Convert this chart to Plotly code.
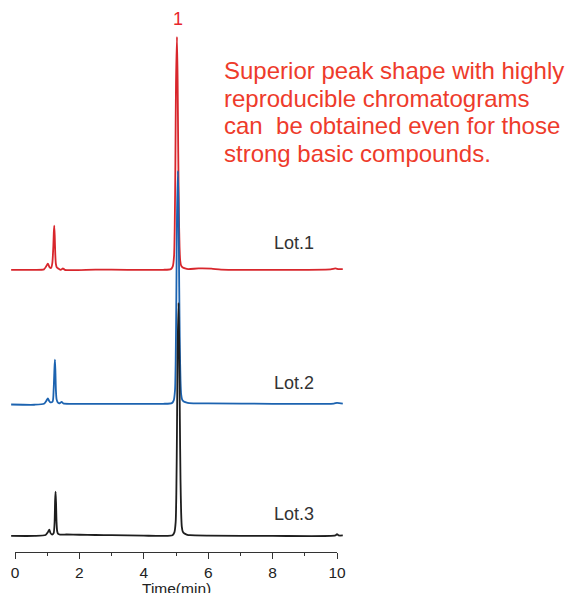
import plotly.graph_objects as go

# ---- data (signal in relative units, main peak = 100) ----
lot1_time = [-0.12, 0.5, 0.9, 0.97, 1.02, 1.07, 1.12, 1.16, 1.19, 1.205, 1.22, 1.235, 1.25, 1.27, 1.3, 1.35, 1.42, 1.49, 1.55,
             2.5, 3.5, 4.6, 4.84, 4.90, 4.94, 4.96, 4.98, 5.00, 5.03, 5.05, 5.07, 5.09, 5.11, 5.13, 5.16, 5.21, 5.28, 5.38,
             5.7, 6.1, 6.4, 8.0, 9.8, 9.95, 10.05, 10.18]
lot1_signal = [0.0, 0.0, 0.2, 1.5, 2.6, 1.2, 0.8, 3.0, 10.0, 16.0, 19.0, 14.0, 7.0, 2.5, 1.0, 0.5, 0.0, 0.6, 0.0,
               0.1, 0.0, 0.0, 0.3, 1.5, 6.0, 18.0, 45.0, 80.0, 100.0, 82.0, 50.0, 24.0, 10.0, 4.0, 1.8, 1.0, 0.6, 0.3,
               0.6, 0.5, 0.1, 0.0, 0.2, 0.6, 0.3, 0.3]

lot2_time = [-0.12, 0.6, 0.9, 0.97, 1.02, 1.06, 1.1, 1.17, 1.2, 1.225, 1.24, 1.255, 1.27, 1.29, 1.32, 1.37, 1.45, 1.5,
             3.0, 4.6, 4.87, 4.93, 4.97, 4.99, 5.01, 5.03, 5.06, 5.08, 5.10, 5.12, 5.14, 5.16, 5.19, 5.24, 5.31, 5.41,
             6.0, 8.0, 9.9, 10.0, 10.18]
lot2_signal = [-0.3, -0.4, 0.0, 1.2, 2.3, 1.2, 0.6, 1.0, 6.0, 15.0, 19.0, 14.0, 6.0, 2.0, 0.8, 0.2, 0.8, 0.2,
               0.0, 0.0, 0.3, 1.5, 6.0, 18.0, 45.0, 80.0, 100.0, 82.0, 50.0, 24.0, 10.0, 4.0, 1.8, 1.0, 0.6, 0.3,
               0.2, 0.0, 0.1, 0.4, 0.1]

lot3_time = [-0.12, 0.6, 0.95, 1.02, 1.065, 1.1, 1.15, 1.2, 1.23, 1.245, 1.26, 1.275, 1.29, 1.31, 1.34, 1.4, 1.6,
             2.0, 2.5, 3.0, 4.0, 4.6, 4.89, 4.95, 4.99, 5.01, 5.03, 5.05, 5.08, 5.10, 5.12, 5.14, 5.16, 5.18, 5.21, 5.26,
             5.33, 5.43, 6.0, 8.0, 9.95, 10.0, 10.05, 10.18]
lot3_signal = [0.0, 0.0, 0.4, 1.6, 2.7, 1.3, 0.6, 1.2, 6.0, 15.0, 19.0, 14.0, 6.0, 2.0, 0.9, 0.6, 0.6,
               0.5, 0.4, 0.3, 0.1, 0.0, 0.3, 1.5, 6.0, 18.0, 45.0, 80.0, 100.0, 82.0, 50.0, 24.0, 10.0, 4.0, 1.8, 1.0,
               0.6, 0.3, 0.1, 0.0, 0.2, 0.8, 0.2, 0.2]

lot_names = ["Lot.1", "Lot.2", "Lot.3"]
lot_offsets = [114.2, 56.7, 0.0]
lot_colors = ["#d8262c", "#1c63b0", "#1e1e1e"]

x_tick_values = [0, 2, 4, 6, 8, 10]
x_tick_labels = ["0", "2", "4", "6", "8", "10"]
x_title = "Time(min)"
peak_label = "1"
note_lines = ["Superior peak shape with highly",
              "reproducible chromatograms",
              "can\u00a0 be obtained even for those",
              "strong basic compounds."]

# ---- figure ----
W, H = 566, 593
PX0, PX10 = 15, 337            # pixel positions of t=0 and t=10 on the time axis
ML, MR, MT, MB = 11, 223, 10, 41
ppm = (PX10 - PX0) / 10.0      # pixels per minute
XMIN = (ML - PX0) / ppm
XMAX = XMIN + (W - ML - MR) / ppm
YMIN, YMAX = -6.9, 225.7
plot_w = W - ML - MR
plot_h = H - MT - MB
ppu = plot_h / (YMAX - YMIN)  # pixels per signal unit


def y_from_px(px):
    return YMIN + (H - MB - px) / ppu


fig = go.Figure()
series = [(lot1_time, lot1_signal), (lot2_time, lot2_signal), (lot3_time, lot3_signal)]
for (t, s), name, off, col in zip(series, lot_names, lot_offsets, lot_colors):
    fig.add_trace(go.Scatter(
        x=t, y=[v + off for v in s], mode="lines", name=name,
        line=dict(color=col, width=1.8, shape="spline", smoothing=0.6),
        showlegend=False, hoverinfo="skip", xaxis="x", yaxis="y"))

# empty (no drawn marks) trace that binds the labelled time axis so it gets rendered
fig.add_trace(go.Scatter(
    x=x_tick_values, y=[None] * len(x_tick_values), mode="lines",
    xaxis="x2", yaxis="y", showlegend=False, hoverinfo="skip",
    line=dict(width=0)))

font_family = "Arial, Liberation Sans, sans-serif"
annotations = []
# Lot labels
label_px_above = [27, 21, 22]
for name, off, above in zip(lot_names, lot_offsets, label_px_above):
    annotations.append(dict(
        x=8.66, y=off + above / ppu, xref="x", yref="y", text=name, showarrow=False,
        xanchor="center", yanchor="middle",
        font=dict(family=font_family, size=18, color="#333333")))
# peak label
annotations.append(dict(
    x=5.05, y=y_from_px(19), xref="x", yref="y", text=peak_label, showarrow=False,
    xanchor="center", yanchor="middle",
    font=dict(family=font_family, size=18, color="#e8252b")))
# note text
note_centers_px = [70.5, 98, 125.5, 153]
for line, cy in zip(note_lines, note_centers_px):
    annotations.append(dict(
        x=(222 - ML) / plot_w, y=(H - MB - cy) / plot_h, xref="paper", yref="paper",
        text=line, showarrow=False, xanchor="left", yanchor="middle", align="left",
        font=dict(family=font_family, size=24, color="#ee3b2b")))
# axis title (placed below the tick labels)
annotations.append(dict(
    x=5.0, xref="x", y=(H - MB - 578) / plot_h, yref="paper", text=x_title,
    showarrow=False, xanchor="center", yanchor="top",
    font=dict(family=font_family, size=15.5, color="#222222")))

fig.update_layout(
    width=W, height=H,
    margin=dict(l=ML, r=MR, t=MT, b=MB, autoexpand=False),
    paper_bgcolor="white", plot_bgcolor="rgba(0,0,0,0)",
    annotations=annotations,
    font=dict(family=font_family, color="#222222"),
    # data axis (slightly wider than the labelled time axis so traces run past 0 and 10)
    xaxis=dict(range=[XMIN, XMAX], domain=[0, 1], visible=False, fixedrange=True),
    # labelled time axis
    xaxis2=dict(
        range=[0, 10], domain=[(PX0 - ML) / plot_w, (PX10 - ML) / plot_w],
        anchor="y",
        showgrid=False, zeroline=False,
        showline=True, linecolor="#333333", linewidth=1,
        ticks="outside", ticklen=6, tickcolor="#333333", tickwidth=1,
        tickvals=x_tick_values, ticktext=x_tick_labels,
        tickfont=dict(size=15.5, color="#222222"),
        minor=dict(dtick=1, ticks="outside", ticklen=3, tickcolor="#333333"),
        automargin=False, fixedrange=True,
    ),
    yaxis=dict(range=[YMIN, YMAX], visible=False, fixedrange=True),
)

fig.write_html("out.html", config={"displayModeBar": False},
               post_script="document.body.style.margin='0';document.body.style.overflow='hidden';")
